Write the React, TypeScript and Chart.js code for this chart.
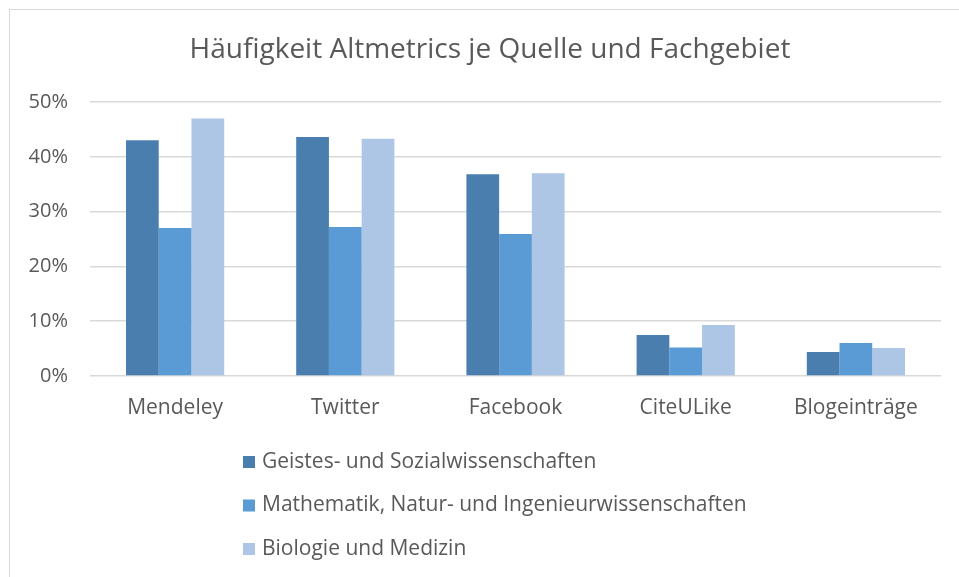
import React, { useEffect, useRef } from "react";
import { Chart, registerables } from "chart.js";

Chart.register(...registerables);

const titleText = "Häufigkeit Altmetrics je Quelle und Fachgebiet";
const categories = ["Mendeley", "Twitter", "Facebook", "CiteULike", "Blogeinträge"];
const seriesNames = [
  "Geistes- und Sozialwissenschaften",
  "Mathematik, Natur- und Ingenieurwissenschaften",
  "Biologie und Medizin",
];
const geistesSozial = [43.0, 43.6, 36.8, 7.5, 4.4];
const mathNaturIng = [27.0, 27.2, 25.9, 5.2, 6.0];
const bioMed = [47.0, 43.3, 37.0, 9.3, 5.1];
const yMin = 0;
const yMax = 50;
const yStep = 10;
const seriesColors = ["#4a7eaf", "#5b9bd5", "#adc6e6"];

const FONT = '"Open Sans", "DejaVu Sans", sans-serif';
const TEXT = "#595959";

const borderPlugin = {
  id: "outerBorder",
  beforeDraw(chart: any) {
    const ctx = chart.ctx;
    ctx.save();
    ctx.fillStyle = "#ffffff";
    ctx.fillRect(0, 0, chart.width, chart.height);
    ctx.strokeStyle = "#d9d9d9";
    ctx.lineWidth = 1;
    ctx.strokeRect(9.5, 9.5, chart.width + 20, chart.height + 20);
    ctx.restore();
  },
};

const titlePlugin = {
  id: "centeredTitle",
  afterDraw(chart: any) {
    const ctx = chart.ctx;
    ctx.save();
    ctx.font = `28px ${FONT}`;
    ctx.textBaseline = "middle";
    ctx.textAlign = "center";
    ctx.fillStyle = TEXT;
    ctx.fillText(titleText, 490, 50);
    ctx.restore();
  },
};

const vLegendPlugin = {
  id: "verticalLegend",
  afterDraw(chart: any) {
    const ctx = chart.ctx;
    ctx.save();
    ctx.font = `21px ${FONT}`;
    ctx.textBaseline = "middle";
    ctx.textAlign = "left";
    chart.data.datasets.forEach((ds: any, i: number) => {
      const y = 462 + i * 43.5;
      ctx.fillStyle = ds.backgroundColor;
      ctx.fillRect(243, y - 6, 12, 12);
      ctx.fillStyle = TEXT;
      ctx.fillText(ds.label, 262, y);
    });
    ctx.restore();
  },
};

export default function App() {
  const ref = useRef<HTMLCanvasElement | null>(null);

  useEffect(() => {
    if (!ref.current) return;
    const seriesData = [geistesSozial, mathNaturIng, bioMed];
    const chart = new Chart(ref.current, {
      type: "bar",
      data: {
        labels: categories,
        datasets: seriesNames.map((name, i) => ({
          label: name,
          data: seriesData[i],
          backgroundColor: seriesColors[i],
          borderWidth: 0,
          categoryPercentage: 0.577,
          barPercentage: 1,
        })),
      },
      options: {
        animation: false,
        responsive: false,
        maintainAspectRatio: false,
        layout: { padding: { left: 0, right: 18, top: 102, bottom: 141 } },
        plugins: {
          legend: { display: false },
          tooltip: { enabled: false },
          title: { display: false },
        },
        scales: {
          x: {
            grid: { display: false, drawTicks: false },
            border: { display: false },
            ticks: { color: TEXT, font: { family: FONT, size: 21 }, padding: 19 },
            afterFit: (s: any) => {
              s.height = 60;
            },
          },
          y: {
            min: yMin,
            max: yMax,
            grid: { color: "#d9d9d9", lineWidth: 1.5, drawTicks: false },
            border: { display: false },
            ticks: {
              stepSize: yStep,
              color: TEXT,
              font: { family: FONT, size: 20 },
              padding: 22,
              callback: (v: any) => `${v}%`,
            },
            afterFit: (s: any) => {
              s.width = 90;
            },
          },
        },
      },
      plugins: [borderPlugin, titlePlugin, vLegendPlugin],
    });
    return () => chart.destroy();
  }, []);

  return (
    <div style={{ position: "absolute", left: 0, top: 0, width: 959, height: 577 }}>
      <canvas ref={ref} width={959} height={577} />
    </div>
  );
}
